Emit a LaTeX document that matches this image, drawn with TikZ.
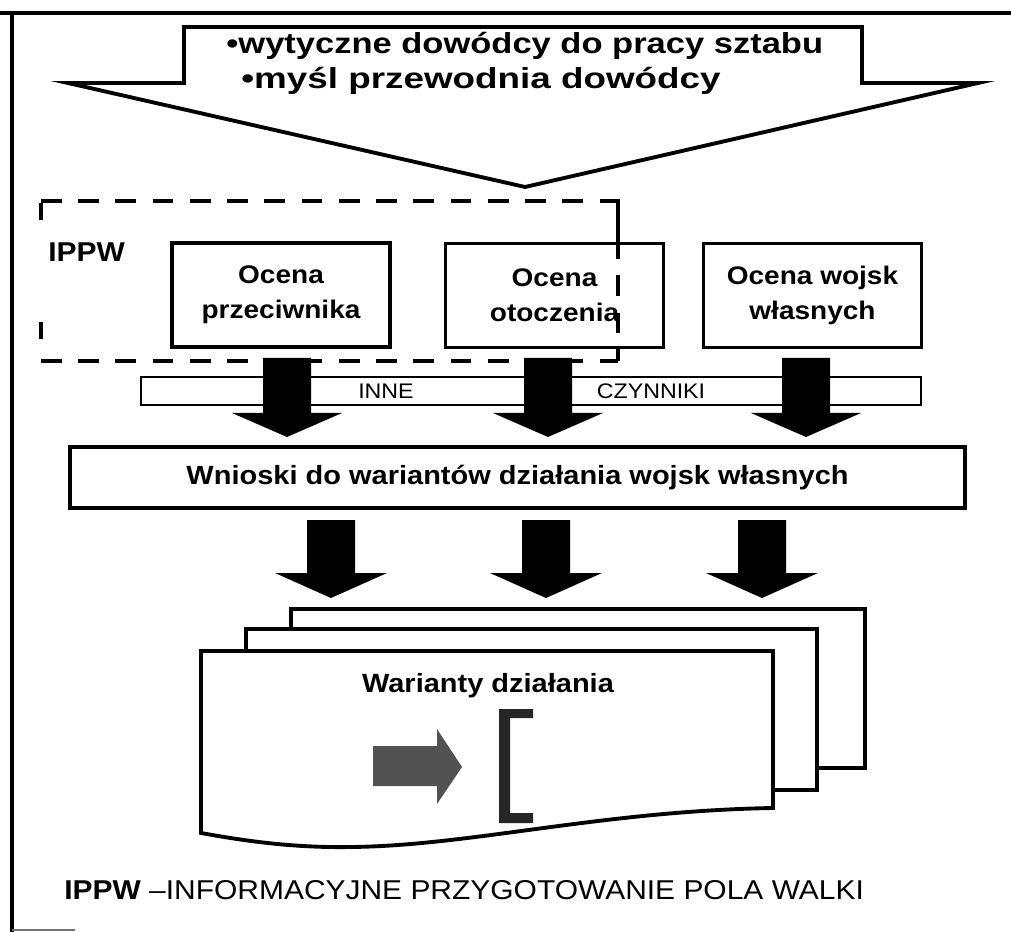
\documentclass[tikz,border=0pt]{standalone}
\usepackage{fontspec}
\setmainfont{Liberation Sans}[FakeStretch=1.1]
\newfontfamily\headfont{Liberation Sans}[FakeStretch=1.19]
\newfontfamily\headfontb{Liberation Sans}[FakeStretch=1.27]
\begin{document}
\begin{tikzpicture}[x=0.02cm, y=-0.02cm, line join=miter]
\tikzset{
  thick edge/.style={line width=2.2pt},
  ocena/.style={draw, line width=2.2pt, fill=white, minimum width=4.36cm, minimum height=2.08cm,
    inner sep=0pt, align=center, font=\fontsize{14.5}{19.8}\selectfont\bfseries},
  groupline/.style={line width=2.2pt, dash pattern=on 11.8pt off 9.4pt},
  bartext/.style={inner sep=0pt, font=\fontsize{12}{14}\selectfont},
  blockfill/.style={fill=black},
  docpage/.style={draw, line width=2.2pt, fill=white},
  headtext/.style={inner sep=0pt, anchor=base west},
}
\newcommand\downblock[6]{%
  \fill[blockfill] ({#1-#5},#2) -- ({#1+#5},#2) -- ({#1+#5},#3) -- ({#1+#6},#3) -- (#1,#4)
    -- ({#1-#6},#3) -- ({#1-#5},#3) -- cycle;}
\useasboundingbox (0,0) rectangle (1011,932);
% frame
\draw[line width=2.3pt] (0,13) -- (1011,13);
\draw[line width=2.3pt] (12,12) -- (12,932);
\draw[line width=1pt, black!55] (12,930) -- (75,930);
% big arrow
\draw[thick edge, fill=white] (184,27) -- (862,27) -- (862,83) -- (978,83) -- (525,187)
  -- (68,83) -- (184,83) -- cycle;
\node[headtext, font=\headfont\fontsize{16.5}{20}\selectfont\bfseries] (g1) at (226,54) {•wytyczne dowódcy do pracy sztabu};
\node[headtext, font=\headfontb\fontsize{16.5}{20}\selectfont\bfseries] (g2) at (241,89) {•myśl przewodnia dowódcy};
% IPPW group
\draw[groupline] (41,201) -- (618,201) -- (618,361);
\draw[groupline] (41,361) -- (618,361);
\draw[line width=2.2pt] (41,203) -- (41,220) (41,322) -- (41,339);
\node[inner sep=0pt, anchor=base west, font=\fontsize{15.5}{18}\selectfont\bfseries] (ippw) at (48,262) {IPPW};
% boxes
\node[ocena] (b1) at (281,295) {Ocena\\przeciwnika};
\node[ocena] (b2) at (554.5,295.5) {Ocena\\otoczenia};
\node[ocena] (b3) at (812.5,295.5) {Ocena wojsk\\własnych};
% dashed right side over box 2
\draw[groupline] (618,201) -- (618,361);
% bar
\node[draw, line width=0.9pt, fill=white, minimum width=15.6cm, minimum height=0.56cm, inner sep=0pt] (bar) at (531,391) {};
\node[bartext] (inne) at (386,391) {INNE};
\node[bartext] (czyn) at (651,391) {CZYNNIKI};
% arrows row 1
\downblock{287}{358}{413}{437}{24}{55}
\downblock{548}{358}{413}{437}{24}{55}
\downblock{806}{358}{413}{437}{24}{55}
% wnioski
\node[draw, line width=2.2pt, fill=white, minimum width=17.9cm, minimum height=1.22cm, inner sep=0pt,
  font=\fontsize{15}{18}\selectfont\bfseries] (wn) at (517.5,477.5) {Wnioski do wariantów działania wojsk własnych};
% arrows row 2
\downblock{331}{520}{573}{598}{24}{56}
\downblock{546}{520}{573}{598}{24}{56}
\downblock{762}{520}{573}{598}{24}{56}
% documents
\draw[docpage] (291,609) rectangle (865,768);
\draw[docpage] (246,629) rectangle (817,790);
\draw[docpage] (201,651) -- (773,651) -- (773,808)
  .. controls (600,811) and (470,846) .. (350,847)
  .. controls (290,848) and (240,840) .. (201,833) -- cycle;
\node[inner sep=0pt, anchor=base, font=\fontsize{15}{18}\selectfont\bfseries] (war) at (488,692) {Warianty działania};
\fill[black!68] (373,746) -- (437,746) -- (437,729) -- (462,767) -- (437,804) -- (437,786) -- (373,786) -- cycle;
\fill[black!85] (499,709) -- (533,709) -- (533,718) -- (510,718) -- (510,813) -- (533,813) -- (533,823) -- (499,823) -- cycle;
% footer
\node[inner sep=0pt, anchor=base west, font=\fontsize{15.5}{18}\selectfont] (foot) at (64,899)
  {\textbf{IPPW} –INFORMACYJNE PRZYGOTOWANIE POLA WALKI};
\end{tikzpicture}
\end{document}
